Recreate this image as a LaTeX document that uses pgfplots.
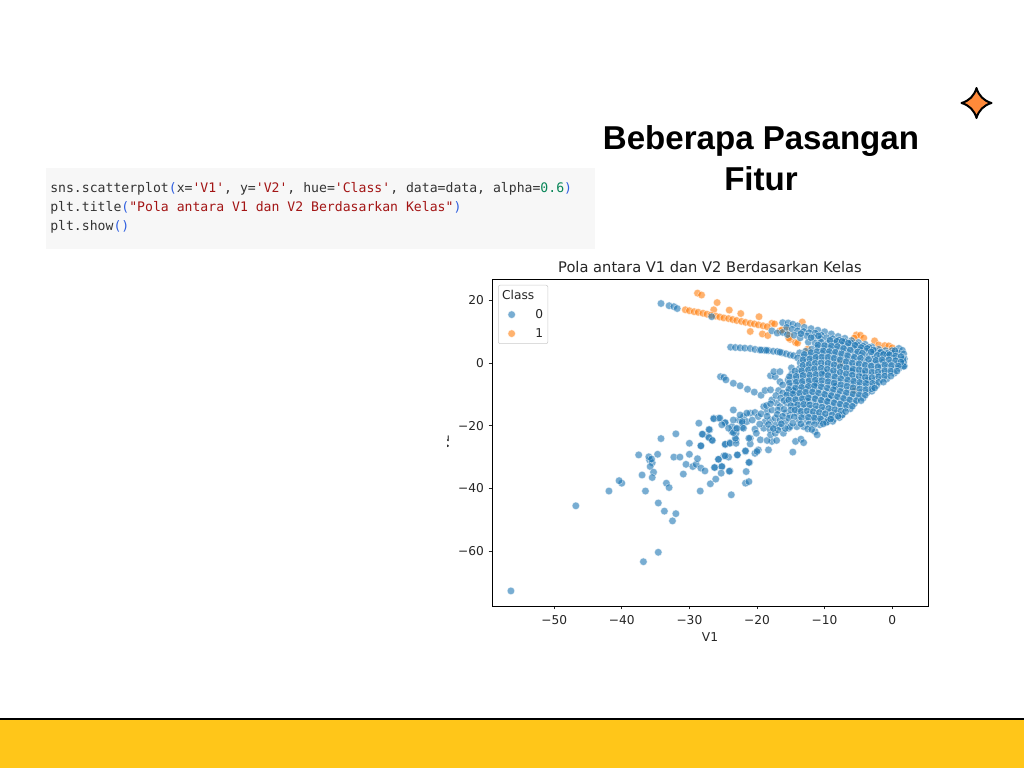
\documentclass[border=0pt]{standalone}
\usepackage{fontspec}
\usepackage{pgfplots}
\pgfplotsset{compat=1.18}
\setmainfont{DejaVu Sans}
\setmonofont{DejaVu Sans Mono}
\newfontfamily\headfont{Liberation Sans}

\definecolor{c0}{HTML}{1F77B4}
\definecolor{c1}{HTML}{FF7F0E}
\definecolor{ink}{HTML}{262626}
\definecolor{band}{HTML}{FFC619}
\definecolor{starfill}{HTML}{FF8A3A}
\definecolor{codebg}{HTML}{F7F7F7}
\definecolor{codeblue}{HTML}{2F5FE0}
\definecolor{codered}{HTML}{A31515}
\definecolor{codegreen}{HTML}{098658}
\definecolor{codeink}{HTML}{333333}

\newcommand{\str}[1]{\textcolor{codered}{#1}}
\newcommand{\brk}[1]{\textcolor{codeblue}{#1}}

\begin{document}
\begin{tikzpicture}
\fill[white] (0,0) rectangle (768pt,-576pt);
\path[use as bounding box] (0,0) rectangle (768pt,-576pt);

\begin{axis}[
    at={(369pt,-454.5pt)}, anchor=south west,
    scale only axis, width=327pt, height=245.25pt,
    xmin=-59.2, xmax=5.3, ymin=-77.4, ymax=26.7,
    xtick={-50,-40,-30,-20,-10,0},
    xticklabels={−50,−40,−30,−20,−10,0},
    ytick={-60,-40,-20,0,20},
    yticklabels={−60,−40,−20,0,20},
    tick align=outside, tick pos=left,
    major tick length=2.6pt,
    tick style={ink, line width=0.5pt},
    axis line style={black, line width=0.6pt},
    ticklabel style={font=\fontsize{9.15}{11}\selectfont, text=ink},
    xticklabel style={yshift=-1pt},
    xlabel={V1}, ylabel={V2},
    label style={font=\fontsize{9.15}{11}\selectfont, text=ink},
    xlabel style={yshift=1pt},
    title={Pola antara V1 dan V2 Berdasarkan Kelas},
    title style={font=\fontsize{11}{13}\selectfont, text=ink, yshift=-4.5pt},
    legend cell align=left,
    legend style={at={(0.0138,0.982)}, anchor=north west, draw=black!20,
        rounded corners=1.5pt, fill=white, fill opacity=0.8, text opacity=1,
        font=\fontsize{9.15}{11}\selectfont, text=ink, row sep=2pt, inner sep=1.5pt},
    scatter0/.style={only marks, mark=*, mark size=2.85pt,
        mark options={draw=white, fill=c0, line width=0.4pt, opacity=0.6}},
    scatter1/.style={only marks, mark=*, mark size=2.85pt,
        mark options={draw=white, fill=c1, line width=0.4pt, opacity=0.6}},
]
\addlegendimage{empty legend}\addlegendentry{\hspace{-12pt}Class\hspace{4pt}}
\addlegendimage{scatter0}\addlegendentry{\hspace{13pt}0}
\addlegendimage{scatter1}\addlegendentry{\hspace{13pt}1}

% class 1
\addplot[scatter1, forget plot] coordinates {
 (-28.8,22.2) (-28.2,21.6) (-25.9,19.2) (-26.4,16.9) (-24.1,16.8) (-22.4,15.7) (-19.7,14.7)
 (-21,10) (-19.2,9.2) (-18.4,8.7) (-17.8,12.6) (-17.4,12.4) (-16.6,10.2) (-15.6,10.5) (-15.2,8.9)
 (-15.1,7.5) (-14.3,6.5) (-14,6.3) (-12.5,4.4) (-13.3,13) (-16.3,10.5) (-15.3,7.9)
 (-30.6,16.9) (-30,16.6) (-29.3,16.3) (-28.7,16.1) (-28,15.8) (-27.4,15.5) (-26.8,15.2) (-26.1,14.9)
 (-25.5,14.6) (-24.9,14.3) (-24.2,14.1) (-23.6,13.8) (-23,13.5) (-22.3,13.2) (-21.7,12.9) (-21,12.6)
 (-20.4,12.4) (-19.8,12.1) (-19.1,11.8) (-18.5,11.5)
 (-5.3,8.9) (-4.7,8.8) (-4.2,7.9) (-5.6,7.9) (-2.6,7) (-2,5.7) (-1.1,5.5) (-0.5,5.4) (0,4.8)
 (-7.7,-0.1) (-5.7,-8.6)
};

% class 0, sparse part
\addplot[scatter0, forget plot] coordinates {
 (-34.2,18.9) (-33,18.2) (-32.3,17.9) (-31.8,17.3) (-26.7,14.7)
 (-23.9,5) (-23.2,4.9) (-22.5,4.8) (-21.8,4.7) (-21,4.6) (-20.3,4.3) (-19.6,4.1) (-18.9,4) (-18.3,3.9)
 (-17.6,3.7) (-17,3.6) (-16.3,3.2) (-15.7,2.9) (-15.1,2.5) (-19.4,4.1) (-18.6,4) (-16.6,3.4)
 (-25.4,-4.4) (-24.9,-4.6) (-24.6,-5.4) (-23.5,-6.5) (-22.5,-7.3) (-21.4,-8.4) (-20.4,-9.3) (-19.4,-10.3)
 (-23.5,-15) (-26.4,-17.6) (-25.7,-17.6) (-24.7,-19.2) (-27,-21.3) (-28,-22.7) (-27.2,-23.5) (-26.7,-24.5)
 (-28.3,-26.4) (-24.7,-26) (-24,-25.4) (-23.1,-24.5) (-23.1,-22.4) (-23.7,-20.3) (-23.7,-21.9) (-23,-21.1)
 (-22.2,-20.5) (-22.7,-18.2) (-22,-17.1) (-22.2,-19.2) (-21.5,-18.7) (-21,-16) (-20.7,-18.2) (-20.3,-15.8)
 (-19.8,-17.1) (-19,-13.9) (-18.8,-18.7) (-20.3,-21.1) (-20.1,-22.4) (-19,-20.8) (-18.1,-21.1) (-19.5,-24.5)
 (-21,-24) (-21,-25.8) (-21.7,-28.2) (-22.9,-29.3) (-24.2,-30) (-24.9,-29.6) (-25.7,-30.7) (-25.2,-33)
 (-26.2,-33.3) (-21.1,-31.7) (-20.3,-28.8) (-19.8,-27.7) (-20,-28.2) (-18.3,-27.7) (-17.8,-25) (-17.1,-24.7)
 (-18.5,-24.7) (-18,-22.9) (-17.3,-22.4) (-14.7,-28.4) (-14.3,-25) (-13.5,-24.3) (-13.1,-25.4) (-11.4,-21.9)
 (-11.1,-22.9) (-10.7,-19.7) (-9.7,-18.9) (-16.1,-22.4) (-15.3,-20.8) (-16.6,-20.3) (-17.3,-19.7) (-18,-18.2)
 (-17.3,-17.6) (-16.6,-18.2) (-15.8,-18.7) (-15.1,-20.3) (-14.1,-20.3) (-13.1,-20.3) (-18.5,-15.5) (-17.8,-15)
 (-17.1,-12.8) (-17.8,-11.8) (-18.8,-8.8) (-18,-8.6) (-16.8,-8.8) (-16.6,-13.9) (-15.6,-12.8) (-14.6,-13.9)
 (-15.8,-16) (-15.1,-16.6) (-14.1,-16) (-13.8,-18.2) (-18,-4.1) (-17.3,-4.4) (-16.6,-6) (-17.5,-2.8) (-16.6,-2.8)
 (-28.6,-19.2) (-32,-22.6) (-34.2,-24.1) (-37.5,-29.3) (-34.7,-29.1) (-35.9,-30.9) (-35.5,-31.8) (-35.8,-33)
 (-35.3,-34.8) (-37,-35.7) (-35.5,-36.5) (-36.5,-40.8) (-33.4,-38.3) (-33,-39.7) (-34.6,-44.6) (-33.7,-47.2)
 (-32.3,-30) (-31.4,-30) (-30,-29.1) (-30,-25.6) (-28.3,-26.4) (-28.1,-22.7) (-27.1,-21.2) (-27.1,-23.8)
 (-26.6,-24.7) (-30.5,-32.3) (-29.5,-33) (-29,-32.3) (-28.8,-30.5) (-28.3,-33.5) (-27.7,-34.4) (-30.9,-35.4)
 (-28.4,-40.8) (-26.9,-38.5) (-26.1,-37) (-26.3,-33.3) (-25.2,-33) (-25.3,-35.1) (-25.7,-30.7) (-24.7,-29.6)
 (-24,-34.4) (-24.1,-34.5) (-22.9,-29.3) (-21.7,-28) (-21.2,-31.7) (-21.6,-34.6) (-21.7,-38.3) (-21.2,-37.8)
 (-23.8,-42) (-24.7,-25.9) (-24,-25.6) (-23.1,-25.6) (-23.2,-24) (-26.4,-17.8) (-25.5,-17.6) (-24.7,-19)
 (-23.5,-18.2) (-25.2,-19.7) (-24.2,-20.8) (-23.5,-22.2) (-22.5,-16.6) (-22.2,-18.7) (-23,-20.8) (-22,-20.8)
 (-21.5,-16) (-21.2,-24) (-40,-38.3) (-40.4,-37.5) (-41.9,-40.8) (-46.8,-45.5) (-56.4,-72.6) (-36.8,-63.3)
 (-34.6,-60.3) (-32.5,-50.3) (-32,-48) (-36,-29.9) (-35.6,-30.6)
};

% class 0, dense wedge
\addplot[scatter0, forget plot] coordinates {
 (-16.2,12.8) (-15.4,12.7) (-14.7,12.3) (-14,11.8) (-13,11.3) (-12,10.9) (-11,10.4) (-10,9.9) (-9,9.2) (-8,8.4)
 (-7,7.8) (-6,7.1) (-5,6.5) (-4,5.9) (-3,5.1) (-2,4.3) (-1,3.9) (0,3.9) (1,4.6) (1.5,4)
 (-17.8,10.2) (-17,9.5) (-16.2,9.7) (-15.6,11.3) (-14.8,10.7) (-14,10.2) (-13.1,10) (-12.3,9.6) (-11.4,9.5) (-10.5,8.8)
 (-15.5,9) (-14.5,8.8) (-13.6,8) (-12.6,8.6) (-11.6,8.1) (-10.6,7.7) (-9.7,8) (-8.8,7.7) (-7.9,7.3) (-7,6.8) (-6.1,6.4) (-5.2,5.8) (-4.3,5.3) (-3.4,4.9) (-2.5,3.9)
 (-12.4,6.6) (-11.4,6.3) (-10.5,6.6) (-9.5,6.2) (-8.6,6.3) (-7.6,5.8) (-6.7,5.2) (-5.7,4.6) (-4.8,4.2) (-3.8,3.8) (-2.9,2.8) (-1.9,3.2) (-0.9,3) (0,3.1) (0.9,3.1) (1.7,2.9)
 (-14.6,2.3) (-13.7,3.2) (-12.8,3.7) (-11.9,4.4) (-11,4.9) (-10.1,4.6) (-9.2,4.6) (-8.3,4.4) (-7.4,3.9) (-6.5,3.3) (-5.5,2.9) (-4.6,2.4) (-3.7,2) (-2.7,1.3) (-1.8,1.6) (-0.8,2.1) (0.2,1.6) (1.1,1.1) (1.8,1.3)
 (-14,1.6) (-13.1,1.9) (-12.2,2.4) (-11.3,2.6) (-10.4,3) (-9.5,2.8) (-8.6,2.6) (-7.7,2) (-6.8,1.4) (-5.9,1.2) (-5,0.7) (-4.1,0.4) (-3.1,0) (-2.2,-0.2) (-1.3,0.3) (-0.3,0) (0.7,-0.3) (1.6,-0.4)
 (-13.6,0) (-12.7,0.3) (-11.8,0.8) (-10.9,1.1) (-10,1) (-9.1,0.9) (-8.2,0.4) (-7.3,-0.3) (-6.4,-0.6) (-5.4,-1) (-4.5,-1.3) (-3.6,-1.7) (-2.7,-2) (-1.7,-1.6) (-0.8,-1.5) (0.1,-1.9) (1,-1.7) (1.8,-1) (1.7,0.2)
 (-14.9,-1.6) (-13.7,-1.8) (-12.8,-1.4) (-11.9,-1.2) (-11,-0.9) (-10,-0.8) (-9.1,-1) (-8.2,-1.6) (-7.2,-2.2) (-6.3,-2.6) (-5.4,-3) (-4.4,-3.3) (-3.5,-3.7) (-2.5,-3.8) (-1.5,-3.3) (-0.6,-3.2) (0.3,-3.3)
 (-14.9,-3.6) (-13.9,-3.4) (-13,-3.1) (-12,-3) (-11.1,-2.7) (-10.2,-2.6) (-9.2,-3) (-8.3,-3.5) (-7.3,-4) (-6.4,-4.4) (-5.5,-5) (-4.5,-5.4) (-3.6,-5.6) (-2.6,-5.6) (-1.6,-5.2) (-0.8,-5.1)
 (-15.4,-5.4) (-14.4,-5.2) (-13.5,-5) (-12.5,-4.8) (-11.6,-4.6) (-10.7,-4.5) (-9.7,-4.9) (-8.8,-5.3) (-7.9,-5.9) (-6.9,-6.3) (-6,-6.7) (-5.1,-7.1) (-4.1,-7.4) (-3.2,-7.5) (-2.3,-7.2)
 (-15,-7.4) (-14,-7) (-13.1,-6.8) (-12.1,-6.6) (-11.2,-6.4) (-10.3,-6.7) (-9.3,-7) (-8.4,-7.5) (-7.4,-8) (-6.5,-8.6) (-5.6,-9) (-4.6,-9.3) (-3.7,-9.4) (-3,-9)
 (-15.5,-9.4) (-14.6,-8.9) (-13.6,-8.7) (-12.7,-8.4) (-11.7,-8.3) (-10.8,-8.6) (-9.8,-9) (-8.9,-9.4) (-8,-9.9) (-7,-10.4) (-6.1,-10.8) (-5.1,-11.1) (-4.3,-11.2)
 (-15,-11) (-14,-10.7) (-13.1,-10.4) (-12.2,-10.2) (-11.3,-10.5) (-10.3,-10.9) (-9.4,-11.3) (-8.4,-11.8) (-7.5,-12.2) (-6.6,-12.6) (-5.6,-12.9)
 (-14.5,-12.6) (-13.5,-12.4) (-12.6,-12.1) (-11.7,-12.4) (-10.7,-12.8) (-9.8,-13.2) (-8.9,-13.6) (-7.9,-14) (-7,-14.4) (-6.2,-14.6)
 (-13.8,-14.6) (-12.9,-14.2) (-12,-14.4) (-11.1,-14.7) (-10.2,-15.1) (-9.2,-15.5) (-8.3,-15.9) (-7.4,-16.4)
 (-13.1,-16.4) (-12.2,-16.2) (-11.3,-16.6) (-10.4,-17) (-9.5,-17.4) (-8.6,-17.8) (-7.8,-17.4)
 (-12.6,-18.4) (-11.7,-18.4) (-10.8,-18.6) (-9.6,-18.2) (-8.8,-18.6)
 (-7.4,-16.6) (-9.4,-11.2) (-3.6,-5.4) (-6,-2.6) (-11.2,-6.6) (1.7,-1.1) (1.6,1.1) (-4.4,-3.3) (-8.4,-7.4) (-12.5,-12.2) (-14.6,-8.8) (-10,-3)
};

% class 0, points lying between the rows above
\addplot[scatter0, forget plot] coordinates {
 (-13.5,9.3) (-12,8) (-10.9,8.6) (-9.2,7.2) (-8.2,6.9) (-7.4,6.9) (-6.5,6.3) (-5.5,5.6) (-4.6,4.9) (-3.7,4.6) (-2.8,4.1) (-1.7,3.4) (-0.7,3) (0.4,3.9)
 (-11,5.7) (-10,5.5) (-9,5.4) (-8.1,5.2) (-7.2,4.6) (-6.2,4.1) (-5.1,3.5) (-4.4,3.1) (-3.1,3.5) (-2.2,2.4) (-1.3,2.7) (-0.4,2.6) (0.5,2.2) (1.3,2)
 (-13,2.7) (-12,3.3) (-11.1,3.6) (-10.2,3.8) (-9.3,3.6) (-8.4,3.4) (-7.5,2.9) (-6.6,2.3) (-5.6,1.8) (-4.7,1.5) (-3.5,1.1) (-2.4,0.8) (-1.5,1) (-0.5,1) (0.5,0.7) (1.3,0.3)
 (-13.2,1) (-12.2,1.3) (-11.3,1.8) (-10.4,1.9) (-9.5,1.8) (-8.6,1.5) (-7.7,1) (-6.8,0.4) (-5.9,0) (-4.9,-0.3) (-4,-0.7) (-3.1,-1) (-2.1,-1.2) (-1.1,-0.6) (-0.1,-0.8) (0.9,-1) 
 (-13.2,-0.8) (-12.3,-0.5) (-11.4,-0.1) (-10.5,0) (-9.5,-0.1) (-8.6,-0.6) (-7.7,-1.2) (-6.8,-1.6) (-5.8,-2) (-4.9,-2.2) (-4,-2.5) (-3,-2.9) (-2.1,-2.9) (-1.1,-2.5) (-0.2,-2.6) (0.7,-2.6)
 (-14.4,-2.6) (-13.4,-2.5) (-12.4,-2.2) (-11.5,-1.9) (-10.5,-1.7) (-9.6,-2) (-8.7,-2.5) (-7.7,-3) (-6.8,-3.5) (-5.9,-3.9) (-4.9,-4.3) (-4,-4.6) (-3,-4.7) (-2,-4.4) (-1.1,-4.2) (-0.2,-4.2)
 (-15.2,-4.4) (-14.2,-4.3) (-13.2,-4) (-12.2,-3.9) (-11.3,-3.7) (-10.4,-3.5) (-9.5,-4) (-8.5,-4.4) (-7.6,-5) (-6.6,-5.4) (-5.7,-5.8) (-4.8,-6.2) (-3.9,-6.5) (-2.9,-6.5) (-2,-6.2) (-1.3,-6.1)
 (-16.2,-7) (-15.2,-6.4) (-14.2,-6.1) (-13.3,-5.9) (-12.3,-5.7) (-11.4,-5.5) (-10.4,-5.6) (-9.5,-6) (-8.6,-6.4) (-7.6,-7) (-6.7,-7.4) (-5.8,-7.9) (-4.8,-8.3) (-3.9,-8.5) (-3,-8.3) (-2.6,-8)
 (-17.2,-10.4) (-16.2,-9.6) (-15.3,-8.4) (-14.3,-8) (-13.4,-7.8) (-12.4,-7.5) (-11.5,-7.3) (-10.5,-7.6) (-9.6,-8) (-8.7,-8.5) (-7.7,-9) (-6.8,-9.5) (-5.8,-9.9) (-4.9,-10.2) (-4,-10.3)
 (-16.5,-11.2) (-15.6,-10.2) (-14.7,-9.8) (-13.7,-9.6) (-12.8,-9.3) (-11.8,-9.2) (-10.9,-9.6) (-10,-10) (-9,-10.4) (-8.1,-10.8) (-7.2,-11.3) (-6.3,-11.8) (-5.3,-12) (-4.6,-12)
 (-16,-12) (-15.3,-11.8) (-14.3,-11.7) (-13.3,-11.4) (-12.4,-11.1) (-11.4,-11.4) (-10.5,-11.9) (-9.6,-12.3) (-8.6,-12.7) (-7.7,-13.1) (-6.8,-13.5) (-5.9,-13.8)
 (-15,-13.6) (-14,-13.4) (-13.1,-13.2) (-12.2,-13.4) (-11.3,-13.7) (-10.4,-14.1) (-9.4,-14.5) (-8.5,-14.9) (-7.6,-15.3) (-6.9,-15.5)
 (-16.9,-15) (-16,-14.8) (-15,-15) (-14.4,-15) (-13.5,-15.4) (-12.6,-15.3) (-11.7,-15.5) (-10.8,-15.8) (-9.9,-16.2) (-8.9,-16.6) (-8,-17)
 (-17,-16.4) (-16.2,-17) (-15.3,-17.6) (-14.5,-17.2) (-13.4,-17.4) (-12.4,-17.3) (-11.5,-17.5) (-10.6,-17.8) (-9.7,-18.9) (-9.1,-17.9)
 (-16.9,-21.4) (-15.8,-20.9) (-14.7,-19.2) (-13.5,-19.4) (-12.3,-19.5) (-11.5,-19.6) (-10.2,-19.4) (-12.5,-21) (-11.9,-21.2)
 (-18.3,-19.6) (-17.6,-20.9) (-16.4,-19.4) (-19.4,-16.2) (-18.6,-13.6) (-18,-13) (-19.6,-19.5) (-18.5,-17)
};
\end{axis}

% the page round the plot
\begin{scope}[x=0.75pt,y=-0.75pt]
% covers most of the y label, as in the slide
\fill[white] (380,415) rectangle (446.5,470);
\fill[band] (0,719) rectangle (1024,768);
\draw[black, line width=1.5pt] (0,718.5) -- (1024,718.5);
\fill[codebg] (46,168) rectangle (595,249);
\node[anchor=base west, inner sep=0pt, font=\fontsize{9.85}{12}\ttfamily, text=codeink] at (50,192)
  {sns.scatterplot\brk{(}x=\str{'V1'}, y=\str{'V2'}, hue=\str{'Class'}, data=data, alpha=\textcolor{codegreen}{0.6}\brk{)}};
\node[anchor=base west, inner sep=0pt, font=\fontsize{9.85}{12}\ttfamily, text=codeink] at (50,211)
  {plt.title\brk{(}\str{"Pola antara V1 dan V2 Berdasarkan Kelas"}\brk{)}};
\node[anchor=base west, inner sep=0pt, font=\fontsize{9.85}{12}\ttfamily, text=codeink] at (50,230.5)
  {plt.show\brk{()}};
\node[anchor=base, inner sep=0pt, font=\headfont\bfseries\fontsize{24.8}{30}\selectfont, text=black] at (761,149.5) {Beberapa Pasangan};
\node[anchor=base, inner sep=0pt, font=\headfont\bfseries\fontsize{24.8}{30}\selectfont, text=black] at (761,190) {Fitur};
\filldraw[fill=starfill, draw=black, line width=1.5pt, line join=round]
  (976.5,88) .. controls (978.5,95.5) and (984,101) .. (991.5,103)
  .. controls (984,105) and (978.5,110.5) .. (976.5,118)
  .. controls (974.5,110.5) and (969,105) .. (961.5,103)
  .. controls (969,101) and (974.5,95.5) .. (976.5,88) -- cycle;
\end{scope}
\end{tikzpicture}
\end{document}
